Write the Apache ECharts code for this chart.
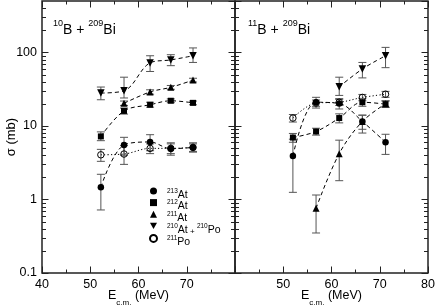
<!DOCTYPE html>
<html><head><meta charset="utf-8">
<script src="https://cdn.jsdelivr.net/npm/echarts@6/dist/echarts.min.js"></script>
<style>html,body{margin:0;padding:0;background:#fff}#c{width:436px;height:307px}</style>
</head><body><div id="c"></div>
<script>
// ---------- data ----------
const energies10 = [52.2, 57.0, 62.4, 66.7, 71.3];
const energies11 = [52.0, 56.8, 61.6, 66.4, 71.2];

// 10B + 209Bi
const at213_10    = [1.47, 5.5, 6.05, 4.9, 5.1];
const at213_10_lo = [0.72, 4.0, 4.6, 4.0, 4.4];
const at213_10_hi = [2.2, 7.0, 7.6, 5.9, 5.9];
const at212_10    = [7.2, 16.0, 19.4, 22.0, 20.6];
const at212_10_lo = [6.3, 14.5, 18.0, 20.7, 19.4];
const at212_10_hi = [8.3, 17.5, 21.0, 23.3, 21.8];
const at211_10    = [null, 20.3, 29.0, 33.5, 42.0];
const at211_10_lo = [null, 19.0, 27.0, 31.5, 39.5];
const at211_10_hi = [null, 21.8, 31.0, 35.5, 44.5];
const at210_10    = [28, 30, 72, 79, 90];
const at210_10_lo = [22.7, 24, 55, 66, 73];
const at210_10_hi = [33.8, 46, 90, 93, 115];
const po211_10    = [4.05, 4.15, 4.95, 4.95, 5.1];
const po211_10_lo = [3.3, 3.0, 4.2, 4.2, 4.5];
const po211_10_hi = [4.8, 5.4, 5.7, 5.7, 5.7];

// 11B + 209Bi
const at213_11    = [3.9, 21.0, 20.2, 11.5, 6.0];
const at213_11_lo = [1.25, 17.5, 17.0, 8.0, 4.1];
const at213_11_hi = [6.6, 24.5, 23.5, 14.0, 7.7];
const at212_11    = [6.95, 8.4, 12.8, 21.0, 19.8];
const at212_11_lo = [6.0, 7.5, 11.0, 18.5, 17.8];
const at212_11_hi = [7.9, 9.3, 14.6, 23.5, 21.8];
const at211_11    = [null, 0.76, 4.2, 11.5, 20.0];
const at211_11_lo = [null, 0.35, 1.8, 9.0, 18.0];
const at211_11_hi = [null, 1.15, 6.4, 14.0, 22.0];
const at210_11    = [null, null, 34, 59.5, 90];
const at210_11_lo = [null, null, 26, 45, 62];
const at210_11_hi = [null, null, 46, 73, 117];
const po211_11    = [12.8, 20.5, 21.0, 24.4, 27.0];
const po211_11_lo = [11.3, 18.5, 19.0, 22.0, 24.5];
const po211_11_hi = [14.3, 22.5, 23.0, 26.8, 29.5];

// ticks
const xMin = 40, xMax = 80, xStep = 10;
const yMajorTicks = [0.1, 1, 10, 100];
const yTickLabels = ['0.1', '1', '10', '100'];
const yMinorTicks = [0.2,0.3,0.4,0.5,0.6,0.7,0.8,0.9, 2,3,4,5,6,7,8,9, 20,30,40,50,60,70,80,90, 200,300,400];
const yMin = 0.1, yMax = 500;

// legend names (superscript mass number + element)
const legendNames = ['213At', '212At', '211At', '210At+210Po', '211Po'];
const legendRich = {
  '213At': '{s|213}{b|At}',
  '212At': '{s|212}{b|At}',
  '211At': '{s|211}{b|At}',
  '210At+210Po': '{s|210}{b|At}{p| + }{s|210}{b|Po}',
  '211Po': '{s|211}{b|Po}'
};

// ---------- styling ----------
const FONT = '"Liberation Sans", Arial, Helvetica, sans-serif';
const DASH = [4, 3];
const DOT = [1.2, 2.2];
const DOWN_TRI = 'path://M0,0L10,0L5,9Z';
const AXC = '#222';
const sty = {
  '213At': {symbol: 'circle', size: 6.5, dash: DASH, hollow: false},
  '212At': {symbol: 'rect', size: 6, dash: DASH, hollow: false},
  '211At': {symbol: 'triangle', size: 7, dash: DASH, hollow: false},
  '210At+210Po': {symbol: DOWN_TRI, size: 7.5, dash: DASH, hollow: false},
  '211Po': {symbol: 'circle', size: 6.5, dash: DOT, hollow: true}
};

function pts(xs, ys) {
  return xs.map((x, i) => ys[i] == null ? null : [x, ys[i]]).filter(Boolean);
}
function lineSeries(name, xs, ys, xi, yi) {
  const s = sty[name];
  return {
    name, type: 'line', xAxisIndex: xi, yAxisIndex: yi, z: 3,
    data: pts(xs, ys), smooth: 0.35, symbol: s.symbol, symbolSize: s.size,
    lineStyle: {color: '#000', width: 1, type: s.dash},
    itemStyle: s.hollow ? {color: 'rgba(255,255,255,0)', borderColor: '#000', borderWidth: 1}
                        : {color: '#000', borderWidth: 0},
    emphasis: {disabled: true}, animation: false
  };
}
function errSeries(xs, lo, hi, xi, yi) {
  return {
    type: 'custom', xAxisIndex: xi, yAxisIndex: yi, z: 2, silent: true, animation: false,
    data: xs.map((x, i) => lo[i] == null ? null : [x, lo[i], hi[i]]).filter(Boolean),
    encode: {x: 0, y: [1, 2]},
    renderItem(params, api) {
      const x = api.value(0);
      const a = api.coord([x, api.value(1)]);
      const b = api.coord([x, api.value(2)]);
      const w = 4;
      const st = {stroke: '#555', lineWidth: 1};
      return {type: 'group', children: [
        {type: 'line', shape: {x1: a[0], y1: a[1], x2: b[0], y2: b[1]}, style: st},
        {type: 'line', shape: {x1: a[0] - w, y1: a[1], x2: a[0] + w, y2: a[1]}, style: st},
        {type: 'line', shape: {x1: b[0] - w, y1: b[1], x2: b[0] + w, y2: b[1]}, style: st}
      ]};
    }
  };
}
// minor log ticks on both vertical edges of a panel, placed through the log axis
function minorTickSeries(xi, yi) {
  return {
    type: 'custom', xAxisIndex: xi, yAxisIndex: yi, z: 4, silent: true, animation: false,
    data: yMinorTicks.map(v => [xMin, v]),
    encode: {x: 0, y: 1},
    renderItem(params, api) {
      const p = api.coord([api.value(0), api.value(1)]);
      const cs = params.coordSys;
      const L = 4;
      const st = {stroke: AXC, lineWidth: 1};
      const y = Math.round(p[1]) + 0.5;
      return {type: 'group', children: [
        {type: 'line', shape: {x1: cs.x, y1: y, x2: cs.x + L, y2: y}, style: st},
        {type: 'line', shape: {x1: cs.x + cs.width - L, y1: y, x2: cs.x + cs.width, y2: y}, style: st}
      ]};
    }
  };
}

function xAx(grid, pos, labels, showMin, showMax) {
  return {
    type: 'value', gridIndex: grid, position: pos, min: xMin, max: xMax, interval: xStep,
    axisLine: {show: false, onZero: false},
    axisTick: {show: true, inside: true, length: 6.5, lineStyle: {color: AXC, width: 1}},
    minorTick: {show: true, splitNumber: 2, length: 3.5, lineStyle: {color: AXC, width: 1}},
    splitLine: {show: false}, minorSplitLine: {show: false},
    axisLabel: {show: labels, showMinLabel: showMin, showMaxLabel: showMax, color: '#000',
      fontSize: 12.5, fontFamily: FONT, margin: 5}
  };
}
function yLabel(v) {
  for (let i = 0; i < yMajorTicks.length; i++) {
    if (Math.abs(Math.log10(v) - Math.log10(yMajorTicks[i])) < 1e-6) return yTickLabels[i];
  }
  return '';
}
function yLog(grid, pos, labels) {
  return {
    type: 'log', logBase: 10, gridIndex: grid, position: pos, min: yMin, max: yMax,
    axisLine: {show: false, onZero: false},
    axisTick: {show: true, inside: true, length: 6.5, lineStyle: {color: AXC, width: 1}},
    minorTick: {show: false}, splitLine: {show: false},
    axisLabel: {show: labels, color: '#000', fontSize: 12.5, fontFamily: FONT, margin: 5,
      showMaxLabel: false, formatter: yLabel}
  };
}

const titleRich = {
  s: {fontSize: 9, lineHeight: 11, verticalAlign: 'top', fontFamily: FONT, fill: '#000', color: '#000'},
  b: {fontSize: 14, lineHeight: 18, verticalAlign: 'bottom', fontFamily: FONT, fill: '#000', color: '#000'}
};
const xNameRich = {
  b: {fontSize: 12.5, lineHeight: 18, verticalAlign: 'top', fontFamily: FONT, fill: '#000', color: '#000'},
  sub: {fontSize: 8, lineHeight: 11, verticalAlign: 'bottom', fontFamily: FONT, fill: '#000', color: '#000'}
};

const series = [
  minorTickSeries(0, 0),
  minorTickSeries(2, 2),
  errSeries(energies10, at213_10_lo, at213_10_hi, 0, 0),
  errSeries(energies10, at212_10_lo, at212_10_hi, 0, 0),
  errSeries(energies10, at211_10_lo, at211_10_hi, 0, 0),
  errSeries(energies10, at210_10_lo, at210_10_hi, 0, 0),
  errSeries(energies10, po211_10_lo, po211_10_hi, 0, 0),
  errSeries(energies11, at213_11_lo, at213_11_hi, 2, 2),
  errSeries(energies11, at212_11_lo, at212_11_hi, 2, 2),
  errSeries(energies11, at211_11_lo, at211_11_hi, 2, 2),
  errSeries(energies11, at210_11_lo, at210_11_hi, 2, 2),
  errSeries(energies11, po211_11_lo, po211_11_hi, 2, 2),
  lineSeries('213At', energies10, at213_10, 0, 0),
  lineSeries('212At', energies10, at212_10, 0, 0),
  lineSeries('211At', energies10, at211_10, 0, 0),
  lineSeries('210At+210Po', energies10, at210_10, 0, 0),
  lineSeries('211Po', energies10, po211_10, 0, 0),
  lineSeries('213At', energies11, at213_11, 2, 2),
  lineSeries('212At', energies11, at212_11, 2, 2),
  lineSeries('211At', energies11, at211_11, 2, 2),
  lineSeries('210At+210Po', energies11, at210_11, 2, 2),
  lineSeries('211Po', energies11, po211_11, 2, 2)
];

const option = {
  backgroundColor: '#fff',
  animation: false,
  grid: [
    {left: 42, top: 1, width: 193, height: 272, show: true, borderColor: AXC, borderWidth: 1.5, outerBoundsMode: 'none'},
    {left: 235, top: 1, width: 193, height: 272, show: true, borderColor: AXC, borderWidth: 1.5, outerBoundsMode: 'none'}
  ],
  xAxis: [
    xAx(0, 'bottom', true, true, false),
    xAx(0, 'top', false, false, false),
    xAx(1, 'bottom', true, false, true),
    xAx(1, 'top', false, false, false)
  ],
  yAxis: [
    yLog(0, 'left', true), yLog(0, 'right', false),
    yLog(1, 'left', false), yLog(1, 'right', false)
  ],
  legend: {
    orient: 'vertical', left: 149, top: 187.5, padding: 0, itemGap: -1.4,
    itemWidth: 7, itemHeight: 7, selectedMode: false,
    data: legendNames.map(n => ({name: n, icon: sty[n].symbol})),
    formatter: n => legendRich[n],
    textStyle: {
      padding: [6, 0, 0, 5], color: '#000', fontFamily: FONT,
      rich: {
        s: {fontSize: 6.5, lineHeight: 8, verticalAlign: 'top', fontFamily: FONT, color: '#000'},
        b: {fontSize: 10.5, lineHeight: 13, verticalAlign: 'bottom', fontFamily: FONT, color: '#000'},
        p: {fontSize: 8, lineHeight: 11, verticalAlign: 'bottom', fontFamily: FONT, color: '#000'}
      }
    }
  },
  graphic: [
    {type: 'text', left: 53, top: 19, style: {text: '{s|10}{b|B + }{s|209}{b|Bi}', rich: titleRich, fill: '#000'}},
    {type: 'text', left: 248, top: 19, style: {text: '{s|11}{b|B + }{s|209}{b|Bi}', rich: titleRich, fill: '#000'}},
    {type: 'text', x: 11, y: 137, rotation: Math.PI / 2,
      style: {text: 'σ (mb)', font: '13px ' + FONT, fill: '#000', align: 'center', verticalAlign: 'middle'}},
    {type: 'text', x: 138.5, y: 289, style: {text: '{b|E}{sub|c.m.}{b| (MeV)}', rich: xNameRich, fill: '#000', align: 'center', verticalAlign: 'top'}},
    {type: 'text', x: 331.5, y: 289, style: {text: '{b|E}{sub|c.m.}{b| (MeV)}', rich: xNameRich, fill: '#000', align: 'center', verticalAlign: 'top'}}
  ],
  series
};

const chart = echarts.init(document.getElementById('c'), null, {renderer: 'canvas'});
chart.setOption(option);
</script>
</body></html>
